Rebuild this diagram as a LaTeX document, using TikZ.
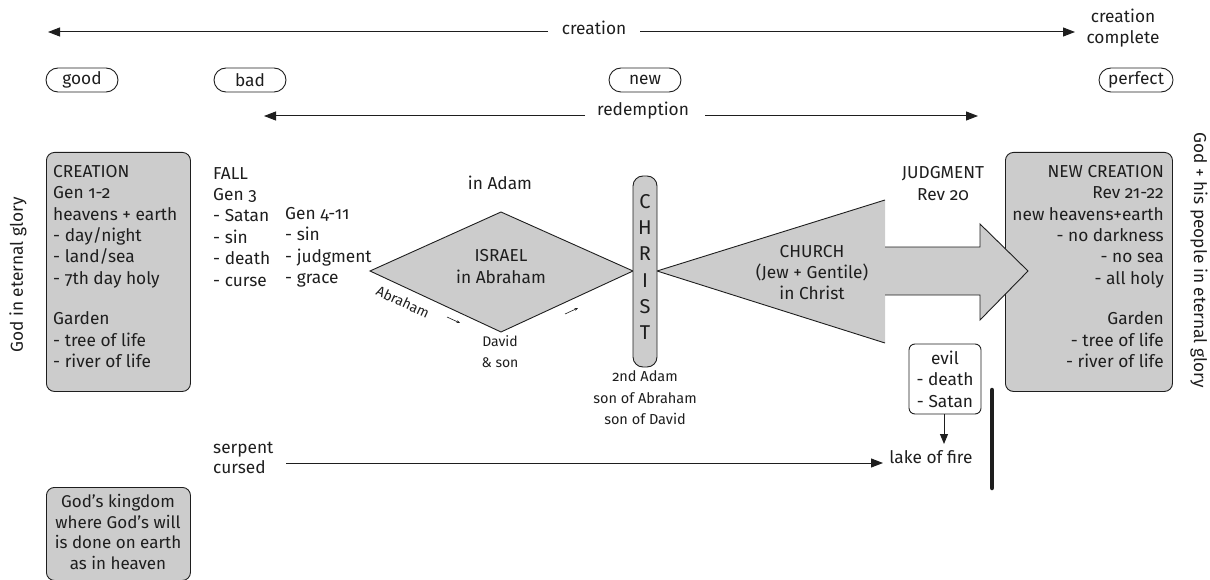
\documentclass[tikz,border=0pt]{standalone}
\usepackage{fontspec}
\setmainfont{Fira Sans}[Numbers=OldStyle]
\usetikzlibrary{arrows.meta}
\definecolor{boxgray}{HTML}{CCCCCC}
\definecolor{ink}{HTML}{1E1E1E}
\begin{document}
\begin{tikzpicture}[x=1pt,y=-1pt,
  every node/.style={font=\fontsize{17.3}{21.4}\selectfont, text=ink, inner sep=0pt},
  small/.style={font=\fontsize{14}{21}\selectfont},
  pill/.style={draw=ink, line width=0.9pt, rounded corners=12pt, minimum height=24pt, minimum width=72pt},
  gbox/.style={draw=ink, fill=boxgray, line width=0.9pt, rounded corners=8pt},
  wbox/.style={draw=ink, fill=white, line width=0.9pt, rounded corners=6pt},
  arr/.style={draw=ink, line width=1pt, -{Triangle[length=12pt,width=9pt]}},
  tinyarr/.style={draw=ink, line width=0.6pt, -{Stealth[length=3.5pt,width=3pt]}},
  outline/.style={draw=ink, line width=0.9pt},
]
\useasboundingbox (0,0) rectangle (1210,580);

% top timeline: creation
\node (ctext) at (594,28) {creation};
\coordinate (cL) at (48,32);
\coordinate (cR) at (1075,32);
\coordinate (cgL) at (548,32);
\coordinate (cgR) at (640,32);
\draw[arr] (cgL) -- (cL);
\draw[arr] (cgR) -- (cR);
\node[align=center, font=\fontsize{17.3}{20.5}\selectfont] (ccomp) at (1123,28) {creation\\complete};

% pills
\node[pill] (good) at (82,80) {good};
\node[pill] (bad) at (250,80) {bad};
\node[pill] (new) at (645,80) {new};
\node[pill, minimum width=74pt] (perfect) at (1136,80) {perfect};

% redemption
\node (rtext) at (643,111) {redemption};
\coordinate (rL) at (264,116);
\coordinate (rR) at (978,116);
\coordinate (rgL) at (585,116);
\coordinate (rgR) at (705,116);
\draw[arr] (rgL) -- (rL);
\draw[arr] (rgR) -- (rR);

% side labels
\node[rotate=90] (leftglory) at (18,275) {God in eternal glory};
\node[rotate=-90] (rightglory) at (1199,260) {God + his people in eternal glory};

% creation box
\node[gbox, anchor=north west, minimum width=144pt, minimum height=239pt] (crbox) at (46,152) {};
\node[anchor=north west, align=left] (crtext) at (53,165)
  {CREATION\\Gen 1-2\\heavens + earth\\- day/night\\- land/sea\\- 7th day holy\\[19pt]Garden\\- tree of life\\- river of life};

% fall
\node[anchor=north west, align=left] (fall) at (213,167)
  {FALL\\Gen 3\\- Satan\\- sin\\- death\\- curse};
\node[anchor=north west, align=left] (gen411) at (285,207)
  {Gen 4-11\\- sin\\- judgment\\- grace};

% Israel diamond
\coordinate (dl) at (370,271);
\coordinate (dt) at (501,212);
\coordinate (dr) at (633,271);
\coordinate (db) at (501,332);
\draw[outline, fill=boxgray] (dl) -- (dt) -- (dr) -- (db) -- cycle;
\node[align=center, font=\fontsize{17.3}{22}\selectfont] (israel) at (501,267) {ISRAEL\\in Abraham};
\node (inadam) at (500,183) {in Adam};
\node[small, rotate=-25] (abraham) at (403,302) {Abraham};
\node[small, align=center] (david) at (500,352) {David\\\& son};
\coordinate (a1s) at (447,317);
\coordinate (a1e) at (460,323);
\coordinate (a2s) at (565,314);
\coordinate (a2e) at (578,308);
\draw[tinyarr] (a1s) -- (a1e);
\draw[tinyarr] (a2s) -- (a2e);

% new creation box
\node[gbox, anchor=north west, minimum width=167pt, minimum height=239pt] (ncbox) at (1005,152) {};
\node[anchor=north east, align=right] (nctext) at (1164,165)
  {NEW CREATION\\Rev 21-22\\new heavens+earth\\- no darkness\\- no sea\\- all holy\\[19pt]Garden\\- tree of life\\- river of life};

% church arrow
\coordinate (ct) at (657,271);
\coordinate (c1) at (885,200);
\coordinate (c2) at (885,247);
\coordinate (c3) at (980,247);
\coordinate (c4) at (980,224);
\coordinate (c5) at (1028,271);
\coordinate (c6) at (980,320);
\coordinate (c7) at (980,295);
\coordinate (c8) at (885,295);
\coordinate (c9) at (885,343);
\fill[boxgray] (ct) -- (c1) -- (c2) -- (c3) -- (c4) -- (c5) -- (c6) -- (c7) -- (c8) -- (c9) -- cycle;
\draw[outline, line join=miter] (c9) -- (ct) -- (c1);
\draw[outline, line join=miter] (c2) -- (c3) -- (c4) -- (c5) -- (c6) -- (c7) -- (c8);
\node[align=center, font=\fontsize{17.3}{21}\selectfont] (church) at (812,273) {CHURCH\\(Jew + Gentile)\\in Christ};
\node[align=center, font=\fontsize{17.3}{22}\selectfont] (judg) at (943,184) {JUDGMENT\\Rev 20};

% Christ pillar
\node[gbox, rounded corners=10pt, minimum width=24pt, minimum height=191pt] (christ) at (645,271.5) {};
\node[align=center, font=\fontsize{20}{26.3}\selectfont] (christtext) at (645,267) {C\\H\\R\\I\\S\\T};
\node[align=center, font=\fontsize{14.5}{21.5}\selectfont] (adam2) at (645,398) {2nd Adam\\son of Abraham\\son of David};

% evil
\node[wbox, minimum width=72pt, minimum height=70pt, align=center, font=\fontsize{17.3}{21.5}\selectfont] (evil) at (945,379) {evil\\- death\\- Satan};
\node (lake) at (931,457) {lake of fire};
\coordinate (laketop) at (944,444);
\draw[draw=ink, line width=1pt, -{Triangle[length=10pt,width=8pt]}] (evil.south -| laketop) -- (laketop);
\coordinate (barT) at (992,390);
\coordinate (barB) at (992,488);
\draw[draw=ink, line width=4.5pt, line cap=round] (barT) -- (barB);

% serpent
\node[anchor=west, align=left, font=\fontsize{17.3}{20}\selectfont] (serpent) at (213,458) {serpent\\cursed};
\coordinate (sL) at (286,463);
\coordinate (sR) at (883,463);
\draw[arr] (sL) -- (sR);

% kingdom box
\node[gbox, anchor=north west, minimum width=144pt, minimum height=93pt] (kbox) at (46,487) {};
\node[anchor=north, align=center, font=\fontsize{17}{20.7}\selectfont] (ktext) at (118,494)
  {God’s kingdom\\where God’s will\\is done on earth\\as in heaven};
\end{tikzpicture}
\end{document}
